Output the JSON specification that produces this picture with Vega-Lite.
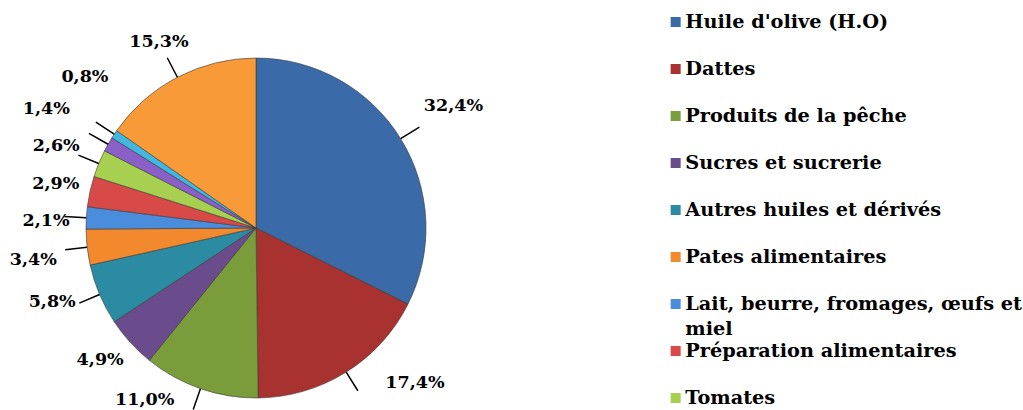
{
  "$schema": "https://vega.github.io/schema/vega-lite/v6.json",
  "width": 512,
  "height": 456,
  "padding": 0,
  "autosize": {"type": "pad"},
  "background": "white",
  "data": {
    "values": [
      {"categorie": "Huile d'olive (H.O)", "valeur": 32.4, "etiquette": "32,4%", "ordre": 1},
      {"categorie": "Dattes", "valeur": 17.4, "etiquette": "17,4%", "ordre": 2},
      {"categorie": "Produits de la pêche", "valeur": 11.0, "etiquette": "11,0%", "ordre": 3},
      {"categorie": "Sucres et sucrerie", "valeur": 4.9, "etiquette": "4,9%", "ordre": 4},
      {"categorie": "Autres huiles et dérivés", "valeur": 5.8, "etiquette": "5,8%", "ordre": 5},
      {"categorie": "Pates alimentaires", "valeur": 3.4, "etiquette": "3,4%", "ordre": 6},
      {"categorie": "Lait, beurre, fromages, œufs et miel", "valeur": 2.1, "etiquette": "2,1%", "ordre": 7},
      {"categorie": "Préparation alimentaires", "valeur": 2.9, "etiquette": "2,9%", "ordre": 8},
      {"categorie": "Tomates", "valeur": 2.6, "etiquette": "2,6%", "ordre": 9},
      {"categorie": "Autres (10)", "valeur": 1.4, "etiquette": "1,4%", "ordre": 10},
      {"categorie": "Autres (11)", "valeur": 0.8, "etiquette": "0,8%", "ordre": 11},
      {"categorie": "Autres (12)", "valeur": 15.3, "etiquette": "15,3%", "ordre": 12}
    ]
  },
  "encoding": {
    "theta": {"field": "valeur", "type": "quantitative", "stack": true},
    "order": {"field": "ordre", "type": "quantitative"}
  },
  "layer": [
    {
      "mark": {"type": "arc", "radius": 170, "stroke": "#3a3a3a", "strokeWidth": 0.6},
      "encoding": {
        "color": {
          "field": "categorie",
          "type": "nominal",
          "sort": {"field": "ordre"},
          "scale": {
            "domain": ["Huile d'olive (H.O)", "Dattes", "Produits de la pêche", "Sucres et sucrerie", "Autres huiles et dérivés", "Pates alimentaires", "Lait, beurre, fromages, œufs et miel", "Préparation alimentaires", "Tomates", "Autres (10)", "Autres (11)", "Autres (12)"],
            "range": ["#3a6ba8", "#a8322f", "#7a9c3a", "#6a4c8c", "#2b8ba3", "#f2892c", "#4a8ddc", "#d84a48", "#a8d050", "#8a60c8", "#40b8e0", "#f99a38"]
          },
          "legend": {
            "values": ["Huile d'olive (H.O)", "Dattes", "Produits de la pêche", "Sucres et sucrerie", "Autres huiles et dérivés", "Pates alimentaires", "Lait, beurre, fromages, œufs et miel", "Préparation alimentaires", "Tomates"],
            "title": null,
            "orient": "none",
            "legendX": 666,
            "legendY": 13,
            "symbolType": "square",
            "symbolSize": 100,
            "symbolStrokeWidth": 0,
            "labelFont": "DejaVu Serif",
            "labelFontWeight": "bold",
            "labelFontSize": 19.3,
            "labelColor": "black",
            "labelLimit": 500,
            "labelOffset": 0,
            "clipHeight": 18,
            "rowPadding": 0,
            "labelExpr": "datum.label == 'Lait, beurre, fromages, œufs et miel' ? ['Lait, beurre, fromages, œufs et', 'miel'] : datum.label",
            "encoding": {
              "entries": {"height": {"value": 46.9}},
              "labels": {"lineHeight": {"value": 25}}
            }
          }
        }
      }
    },
    {
      "mark": {"type": "arc", "radius": 192, "radius2": 170, "padAngle": 3, "fillOpacity": 0, "fill": "white", "stroke": "black", "strokeWidth": 1.5,
        "strokeOpacity": {"expr": "datum.ordre == 4 || datum.ordre == 8 ? 0 : 1"}}
    },
    {
      "mark": {"type": "text", "radius": 212, "font": "DejaVu Serif", "fontWeight": "bold", "fontSize": 17.5, "color": "black",
        "thetaOffset": {"expr": "datum.ordre == 2 ? -0.239 : datum.ordre == 3 ? 0.241 : datum.ordre == 4 ? 0.037 : datum.ordre == 5 ? 0.052 : datum.ordre == 6 ? -0.03 : datum.ordre == 7 ? -0.025 : datum.ordre == 11 ? 0.138 : 0"},
        "radiusOffset": {"expr": "datum.ordre == 1 ? 20 : datum.ordre == 2 ? 10 : datum.ordre == 3 ? -7 : datum.ordre == 4 ? -8 : datum.ordre == 5 ? 5 : datum.ordre == 6 ? 13 : datum.ordre == 7 ? -2 : datum.ordre == 8 ? -7 : datum.ordre == 9 ? 4 : datum.ordre == 10 ? 29 : datum.ordre == 11 ? 16 : datum.ordre == 12 ? -2 : 0"}},
      "encoding": {"text": {"field": "etiquette", "type": "nominal"}}
    }
  ]
}
